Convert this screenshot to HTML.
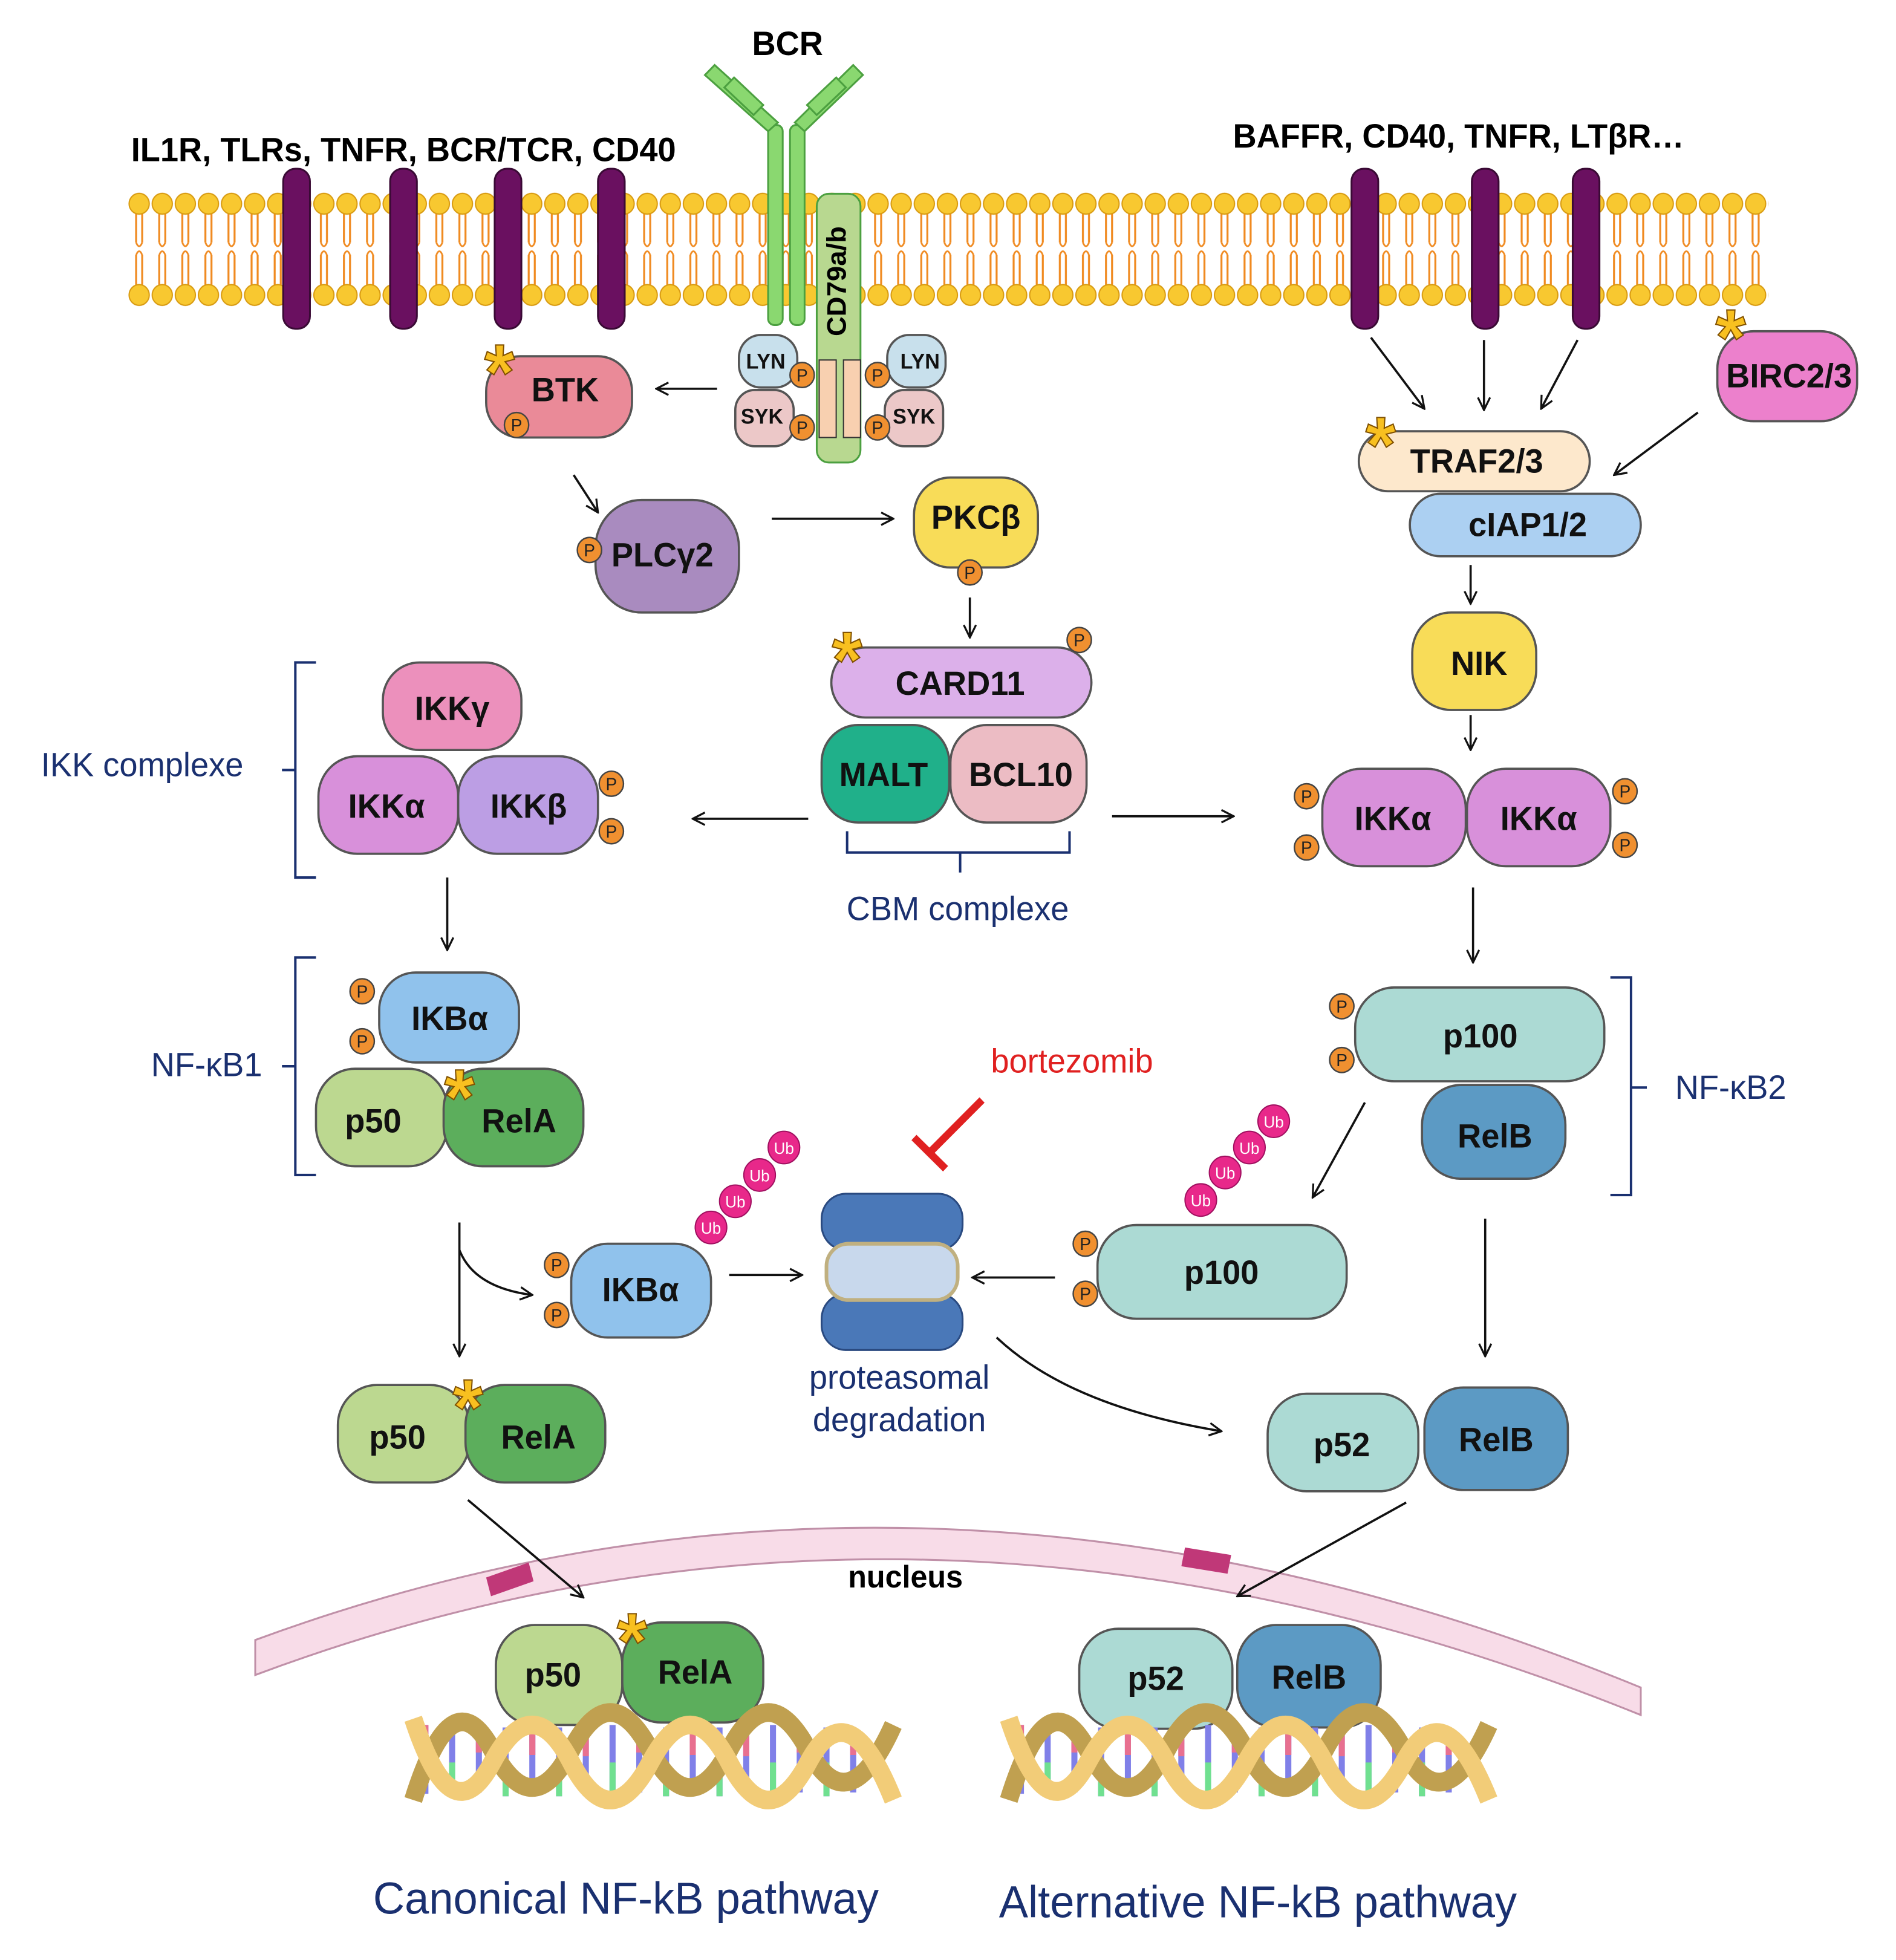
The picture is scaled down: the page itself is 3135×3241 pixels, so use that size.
<!DOCTYPE html>
<html><head><meta charset="utf-8"><style>html,body{margin:0;padding:0;background:#fff}svg{display:block}</style></head><body>
<svg xmlns="http://www.w3.org/2000/svg" width="3135" height="3241" viewBox="0 0 1560 1568" preserveAspectRatio="none" font-family="Liberation Sans, Arial, sans-serif">
<defs>
<marker id="a" viewBox="0 0 12 12" refX="11" refY="6" markerWidth="12" markerHeight="12" markerUnits="userSpaceOnUse" orient="auto"><path d="M1,1 L11,6 L1,11" fill="none" stroke="#111" stroke-width="1.6"/></marker>
<pattern id="mem" x="105" y="0" width="19" height="300" patternUnits="userSpaceOnUse">
<path d="M7,170 v24 M12,170 v24 M7,204 v24 M12,204 v24" stroke="#f08a20" stroke-width="1.6" fill="none"/>
<path d="M7,194 q2.5,6 5,0 M7,204 q2.5,-6 5,0" stroke="#f08a20" stroke-width="1.4" fill="none"/>
<circle cx="9.5" cy="163" r="8.3" fill="#f8c830" stroke="#d89a10" stroke-width="1"/>
<circle cx="9.5" cy="236" r="8.3" fill="#f8c830" stroke="#d89a10" stroke-width="1"/>
</pattern>
<g id="p"><circle cx="0" cy="0" r="10" fill="#f09030" stroke="#444" stroke-width="1.2"/><text x="0" y="5" font-size="14" text-anchor="middle" fill="#222">P</text></g>
</defs>
<rect width="1560" height="1568" fill="#fff"/>
<!-- membrane -->
<rect x="105" y="150" width="1350" height="100" fill="url(#mem)"/>
<g fill="#6a1060" stroke="#3a0a35" stroke-width="1.5">
<rect x="233" y="135" width="22" height="128" rx="10"/><rect x="321" y="135" width="22" height="128" rx="10"/>
<rect x="407" y="135" width="22" height="128" rx="10"/><rect x="492" y="135" width="22" height="128" rx="10"/>
<rect x="1112" y="135" width="22" height="128" rx="10"/><rect x="1211" y="135" width="22" height="128" rx="10"/>
<rect x="1294" y="135" width="22" height="128" rx="10"/>
</g>
<!-- BCR -->
<g fill="#8ad870" stroke="#4ca040" stroke-width="1.5">
<rect x="672" y="155" width="36" height="215" rx="10" fill="#b8d890"/>
<rect x="632" y="100" width="12" height="160" rx="5"/><rect x="650" y="100" width="12" height="160" rx="5"/>
<path d="M632,105 L580,60 L588,52 L640,98Z"/><path d="M620,92 L596,70 L604,62 L628,84Z"/>
<path d="M662,105 L710,60 L702,52 L654,98Z"/><path d="M672,92 L696,70 L688,62 L664,84Z"/>
</g>
<text x="690" y="225" font-size="22" font-weight="bold" transform="rotate(-90 690 225)" text-anchor="middle" dominant-baseline="middle">CD79a/b</text>
<rect x="674" y="288" width="14" height="62" fill="#f8d0b0" stroke="#333"/><rect x="694" y="288" width="14" height="62" fill="#f8d0b0" stroke="#333"/>
<g font-weight="bold" text-anchor="middle" font-size="27">
<text x="648" y="44">BCR</text>
<text x="332" y="129">IL1R, TLRs, TNFR, BCR/TCR, CD40</text>
<text x="1200" y="118">BAFFR, CD40, TNFR, LTβR…</text>
<text x="745" y="1270" font-size="25">nucleus</text>
</g>
<!-- nucleus -->
<path d="M210,1340 Q760,1140 1350,1372 L1350,1350 Q760,1115 210,1312Z" fill="#f8dce8" stroke="#c090a8" stroke-width="1.5"/>
<path d="M400,1262 l35,-12 l4,15 l-35,12z M975,1238 l38,6 l-3,15 l-38,-6z" fill="#c03878"/>
<!-- proteins -->
<g stroke="#555" stroke-width="1.8">
<rect x="400" y="285" width="120" height="65" rx="28" fill="#ea8a98"/>
<rect x="608" y="268" width="48" height="42" rx="18" fill="#c8e0ec"/>
<rect x="730" y="268" width="48" height="42" rx="18" fill="#c8e0ec"/>
<rect x="605" y="312" width="48" height="45" rx="16" fill="#ecc8c8"/>
<rect x="728" y="312" width="48" height="45" rx="16" fill="#ecc8c8"/>
<rect x="490" y="400" width="118" height="90" rx="38" fill="#a98bbf"/>
<rect x="752" y="382" width="102" height="72" rx="30" fill="#f8dc58"/>
<rect x="684" y="518" width="214" height="56" rx="28" fill="#dcb0ea"/>
<rect x="676" y="580" width="105" height="78" rx="30" fill="#20b08a"/>
<rect x="782" y="580" width="112" height="78" rx="30" fill="#ecbcc4"/>
<rect x="315" y="530" width="114" height="70" rx="30" fill="#ec90bc"/>
<rect x="262" y="605" width="115" height="78" rx="32" fill="#d890da"/>
<rect x="377" y="605" width="115" height="78" rx="32" fill="#bc9ee4"/>
<rect x="312" y="778" width="115" height="72" rx="30" fill="#90c2ec"/>
<rect x="260" y="855" width="108" height="78" rx="32" fill="#bcd890"/>
<rect x="365" y="855" width="115" height="78" rx="32" fill="#5cae5c"/>
<rect x="1118" y="345" width="190" height="48" rx="24" fill="#fde8cc"/>
<rect x="1160" y="395" width="190" height="50" rx="25" fill="#acd0f2"/>
<rect x="1413" y="265" width="115" height="72" rx="30" fill="#ec80cc"/>
<rect x="1162" y="490" width="102" height="78" rx="32" fill="#f8dc58"/>
<rect x="1088" y="615" width="118" height="78" rx="32" fill="#d890da"/>
<rect x="1207" y="615" width="118" height="78" rx="32" fill="#d890da"/>
<rect x="1115" y="790" width="205" height="75" rx="32" fill="#acdad4"/>
<rect x="1170" y="868" width="118" height="75" rx="32" fill="#5c9ac4"/>
<rect x="470" y="995" width="115" height="75" rx="30" fill="#90c2ec"/>
<rect x="903" y="980" width="205" height="75" rx="32" fill="#acdad4"/>
<rect x="278" y="1108" width="108" height="78" rx="32" fill="#bcd890"/>
<rect x="383" y="1108" width="115" height="78" rx="32" fill="#5cae5c"/>
<rect x="1043" y="1115" width="124" height="78" rx="32" fill="#acdad4"/>
<rect x="1172" y="1110" width="118" height="82" rx="32" fill="#5c9ac4"/>
<rect x="408" y="1300" width="104" height="80" rx="32" fill="#bcd890"/>
<rect x="512" y="1298" width="116" height="80" rx="32" fill="#5cae5c"/>
<rect x="888" y="1303" width="126" height="80" rx="32" fill="#acdad4"/>
<rect x="1018" y="1300" width="118" height="82" rx="32" fill="#5c9ac4"/>
</g>
<g font-weight="bold" font-size="27" text-anchor="middle" fill="#111">
<text x="465" y="321">BTK</text>
<g font-size="17"><text x="630" y="295">LYN</text><text x="757" y="295">LYN</text><text x="627" y="339">SYK</text><text x="752" y="339">SYK</text></g>
<text x="545" y="453">PLCγ2</text><text x="803" y="423">PKCβ</text><text x="790" y="556">CARD11</text>
<text x="727" y="629">MALT</text><text x="840" y="629">BCL10</text><text x="372" y="576">IKKγ</text>
<text x="318" y="654">IKKα</text><text x="435" y="654">IKKβ</text><text x="370" y="824">IKBα</text>
<text x="307" y="906">p50</text><text x="427" y="906">RelA</text><text x="1215" y="378">TRAF2/3</text>
<text x="1257" y="429">cIAP1/2</text><text x="1472" y="310">BIRC2/3</text><text x="1217" y="540">NIK</text>
<text x="1146" y="664">IKKα</text><text x="1266" y="664">IKKα</text><text x="1218" y="838">p100</text>
<text x="1230" y="918">RelB</text><text x="527" y="1041">IKBα</text><text x="1005" y="1027">p100</text>
<text x="327" y="1159">p50</text><text x="443" y="1159">RelA</text><text x="1104" y="1165">p52</text>
<text x="1231" y="1161">RelB</text><text x="455" y="1349">p50</text><text x="572" y="1347">RelA</text>
<text x="951" y="1352">p52</text><text x="1077" y="1351">RelB</text>
</g>
<!-- proteasome -->
<g stroke="#2a4a80" stroke-width="1.5">
<rect x="676" y="955" width="116" height="45" rx="20" fill="#4a78b8"/>
<rect x="676" y="1035" width="116" height="45" rx="20" fill="#4a78b8"/>
<rect x="680" y="995" width="108" height="45" rx="18" fill="#c8d8ec" stroke="#c0b080" stroke-width="3"/>
</g>
<!-- DNA -->
<g id="dna">
<g stroke-width="5">
<path d="M350,1380v55M372,1382v55M394,1382v52M416,1382v55M438,1384v50M460,1382v55M482,1385v50M504,1380v55M526,1382v52M548,1382v55M570,1384v50M592,1382v55M614,1385v50M636,1380v55M658,1382v52M680,1382v55M702,1384v50" stroke="#8080e8"/>
<path d="M350,1380v20M394,1382v20M438,1384v20M482,1385v20M526,1382v20M570,1384v20M614,1385v20M658,1382v20M702,1384v20" stroke="#e87090"/>
<path d="M372,1410v27M416,1410v27M460,1410v27M504,1410v27M548,1410v27M592,1410v27M636,1410v27M680,1410v27" stroke="#70e090"/>
</g>
<path d="M340,1440 Q372,1340 405,1400 T470,1400 T535,1400 T600,1400 T665,1400 T735,1380" fill="none" stroke="#c0a050" stroke-width="15"/>
<path d="M340,1375 Q372,1470 405,1410 T470,1410 T535,1410 T600,1410 T665,1410 T735,1440" fill="none" stroke="#f2cc78" stroke-width="15"/>
</g>
<use href="#dna" transform="translate(490,0)"/>
<!-- P circles -->
<g>
<use href="#p" x="425" y="340"/><use href="#p" x="660" y="300"/><use href="#p" x="660" y="342"/><use href="#p" x="722" y="300"/><use href="#p" x="722" y="342"/>
<use href="#p" x="485" y="440"/><use href="#p" x="798" y="458"/><use href="#p" x="888" y="512"/><use href="#p" x="503" y="627"/><use href="#p" x="503" y="665"/>
<use href="#p" x="298" y="793"/><use href="#p" x="298" y="833"/><use href="#p" x="1075" y="637"/><use href="#p" x="1075" y="678"/><use href="#p" x="1337" y="633"/><use href="#p" x="1337" y="676"/>
<use href="#p" x="1104" y="805"/><use href="#p" x="1104" y="848"/><use href="#p" x="458" y="1012"/><use href="#p" x="458" y="1052"/><use href="#p" x="893" y="995"/><use href="#p" x="893" y="1035"/>
</g>
<!-- Ub -->
<g fill="#e8288a" stroke="#a01060" font-size="13" text-anchor="middle">
<circle cx="585" cy="982" r="13"/><circle cx="605" cy="961" r="13"/><circle cx="625" cy="940" r="13"/><circle cx="645" cy="918" r="13"/>
<circle cx="988" cy="960" r="13"/><circle cx="1008" cy="938" r="13"/><circle cx="1028" cy="918" r="13"/><circle cx="1048" cy="897" r="13"/>
<g fill="#fff" stroke="none"><text x="585" y="987">Ub</text><text x="605" y="966">Ub</text><text x="625" y="945">Ub</text><text x="645" y="923">Ub</text>
<text x="988" y="965">Ub</text><text x="1008" y="943">Ub</text><text x="1028" y="923">Ub</text><text x="1048" y="902">Ub</text></g>
</g>
<!-- stars -->
<g fill="#f8c020" stroke="#805000" stroke-width="1" font-size="64" font-weight="bold" text-anchor="middle">
<text x="411" y="320">*</text><text x="1136" y="378">*</text><text x="1424" y="292">*</text><text x="697" y="550">*</text><text x="378" y="900">*</text><text x="385" y="1148">*</text><text x="520" y="1335">*</text>
</g>
<!-- arrows -->
<g stroke="#111" stroke-width="1.8" fill="none" marker-end="url(#a)">
<path d="M590,311 H540"/><path d="M472,380 L492,410"/><path d="M635,415 H735"/><path d="M798,478 V510"/>
<path d="M665,655 H570"/><path d="M915,653 H1015"/><path d="M368,702 V760"/>
<path d="M1128,270 L1172,327"/><path d="M1221,272 V328"/><path d="M1298,272 L1268,327"/><path d="M1397,330 L1328,380"/>
<path d="M1210,452 V483"/><path d="M1210,572 V600"/><path d="M1212,710 V770"/>
<path d="M1123,882 L1080,958"/><path d="M1222,975 V1085"/>
<path d="M378,978 V1085"/><path d="M378,1000 Q390,1030 438,1036"/>
<path d="M600,1020 H660"/><path d="M868,1022 H800"/><path d="M820,1070 Q880,1125 1005,1145"/>
<path d="M385,1200 L480,1278"/><path d="M1157,1202 L1018,1277"/>
</g>
<!-- bortezomib -->
<path d="M808,880 L765,922 M752,910 L778,935" stroke="#e02020" stroke-width="6" fill="none"/>
<text x="882" y="858" fill="#e02020" font-size="27" text-anchor="middle">bortezomib</text>
<!-- brackets & labels -->
<g stroke="#1a3070" stroke-width="2" fill="none">
<path d="M260,530 H243 V702 H260 M243,616 H232"/>
<path d="M260,766 H243 V940 H260 M243,853 H232"/>
<path d="M1325,782 H1342 V956 H1325 M1342,870 H1355"/>
<path d="M697,665 V682 H880 V665 M790,682 V698"/>
</g>
<g fill="#1a3070" font-size="27" text-anchor="middle">
<text x="117" y="621">IKK complexe</text><text x="170" y="861">NF-κB1</text><text x="1424" y="879">NF-κB2</text>
<text x="788" y="736">CBM complexe</text><text x="740" y="1111">proteasomal</text><text x="740" y="1145">degradation</text>
<text x="515" y="1531" font-size="36">Canonical NF-kB pathway</text><text x="1035" y="1534" font-size="36">Alternative NF-kB pathway</text>
</g>
</svg>
</body></html>
